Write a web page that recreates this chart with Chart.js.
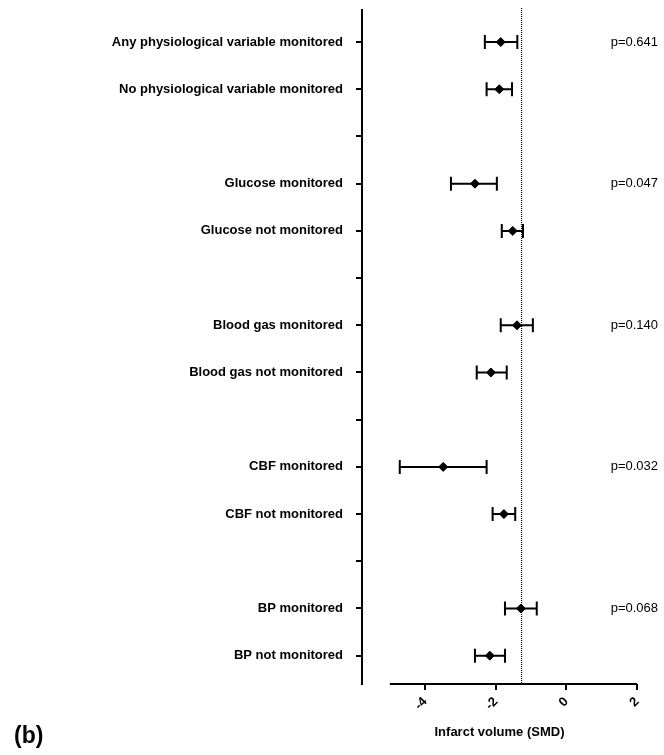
<html>
<head>
<title>Infarct volume by physiological monitoring</title>
<script src="https://cdn.jsdelivr.net/npm/chart.js"></script>
<style>
  body { margin: 0; background: white; }
  #wrap { width: 664px; height: 755px; }
</style>
</head>
<body>
<div id="wrap"><canvas id="chart" width="664" height="755"></canvas></div>
<script>
// one entry per row on the y axis, blank rows are spacers
const rowLabels = [
    'Any physiological variable monitored',
    'No physiological variable monitored',
    '',
    'Glucose monitored',
    'Glucose not monitored',
    '',
    'Blood gas monitored',
    'Blood gas not monitored',
    '',
    'CBF monitored',
    'CBF not monitored',
    '',
    'BP monitored',
    'BP not monitored'
];
const smd   = [-1.86, -1.90, null, -2.59, -1.52, null, -1.40, -2.14, null, -3.49, -1.77, null, -1.29, -2.17];
const lower = [-2.31, -2.26, null, -3.27, -1.83, null, -1.86, -2.54, null, -4.72, -2.09, null, -1.74, -2.59];
const upper = [-1.39, -1.54, null, -1.97, -1.23, null, -0.95, -1.69, null, -2.26, -1.45, null, -0.84, -1.74];
const pValues = ['p=0.641', null, null, 'p=0.047', null, null, 'p=0.140', null, null, 'p=0.032', null, null, 'p=0.068', null];
const overall = -1.27;
const xTicks = [-4, -2, 0, 2];

const points = [];
smd.forEach((v, i) => { if (v !== null) points.push({x: v, y: i + 1}); });

const forestPlugin = {
    id: 'forest',
    afterDatasetsDraw(chart) {
        const ctx = chart.ctx;
        const xs = chart.scales.x, ys = chart.scales.y;
        const area = chart.chartArea;
        ctx.save();
        // overall effect dotted line
        ctx.strokeStyle = '#000';
        ctx.lineWidth = 1.2;
        ctx.setLineDash([1, 1]);
        const ox = xs.getPixelForValue(overall);
        ctx.beginPath();
        ctx.moveTo(ox, area.top - 2);
        ctx.lineTo(ox, area.bottom);
        ctx.stroke();
        ctx.setLineDash([]);
        // x axis line from -5 to 2
        ctx.lineWidth = 2;
        ctx.beginPath();
        ctx.moveTo(xs.getPixelForValue(-5), area.bottom);
        ctx.lineTo(xs.getPixelForValue(2), area.bottom);
        ctx.stroke();
        // error bars
        ctx.lineWidth = 2;
        for (let i = 0; i < smd.length; i++) {
            if (smd[i] === null) continue;
            const y = ys.getPixelForValue(i + 1);
            const x1 = xs.getPixelForValue(lower[i]);
            const x2 = xs.getPixelForValue(upper[i]);
            ctx.beginPath();
            ctx.moveTo(x1, y); ctx.lineTo(x2, y);
            ctx.moveTo(x1, y - 7); ctx.lineTo(x1, y + 7);
            ctx.moveTo(x2, y - 7); ctx.lineTo(x2, y + 7);
            ctx.stroke();
        }
        // p values
        ctx.fillStyle = '#000';
        ctx.font = '13px "Liberation Sans", Arial, sans-serif';
        ctx.textAlign = 'right';
        ctx.textBaseline = 'middle';
        pValues.forEach((p, i) => {
            if (p) ctx.fillText(p, 658, ys.getPixelForValue(i + 1));
        });
        // panel letter
        ctx.font = 'bold 23px "Liberation Sans", Arial, sans-serif';
        ctx.textAlign = 'left';
        ctx.fillText('(b)', 14, 737);
        ctx.restore();
    }
};

new Chart(document.getElementById('chart'), {
    type: 'scatter',
    data: {
        datasets: [{
            data: points,
            pointStyle: 'rectRot',
            radius: 4.5,
            backgroundColor: '#000',
            borderColor: '#000',
            borderWidth: 1
        }]
    },
    options: {
        responsive: false,
        animation: false,
        layout: { padding: { top: 10, right: 27, bottom: 0, left: 0 } },
        plugins: { legend: { display: false }, tooltip: { enabled: false } },
        scales: {
            x: {
                type: 'linear',
                min: -5.79,
                max: 2,
                afterBuildTicks: s => { s.ticks = xTicks.map(v => ({value: v})); },
                afterFit: s => { s.height = 71; },
                border: { display: false },
                grid: { drawOnChartArea: false, tickLength: 6, color: '#000', lineWidth: 2 },
                ticks: {
                    minRotation: 45, maxRotation: 45, padding: 4,
                    color: '#000',
                    font: { family: '"Liberation Sans", Arial, sans-serif', size: 13, weight: 'bold' }
                },
                title: {
                    display: true,
                    text: 'Infarct volume (SMD)',
                    color: '#000',
                    padding: { top: 0, bottom: 15 },
                    font: { family: '"Liberation Sans", Arial, sans-serif', size: 13, weight: 'bold' }
                }
            },
            y: {
                type: 'linear',
                reverse: true,
                min: 0.32,
                max: 14.6,
                afterBuildTicks: s => { s.ticks = rowLabels.map((l, i) => ({value: i + 1})); },
                afterFit: s => { s.width = 362; s.paddingTop = 0; s.paddingBottom = 0; },
                border: { display: true, color: '#000', width: 2 },
                grid: { drawOnChartArea: false, tickLength: 6, color: '#000', lineWidth: 2 },
                ticks: {
                    padding: 13,
                    color: '#000',
                    callback: v => rowLabels[Math.round(v) - 1] || '',
                    font: { family: '"Liberation Sans", Arial, sans-serif', size: 13, weight: 'bold' }
                }
            }
        }
    },
    plugins: [forestPlugin]
});
</script>
</body>
</html>
